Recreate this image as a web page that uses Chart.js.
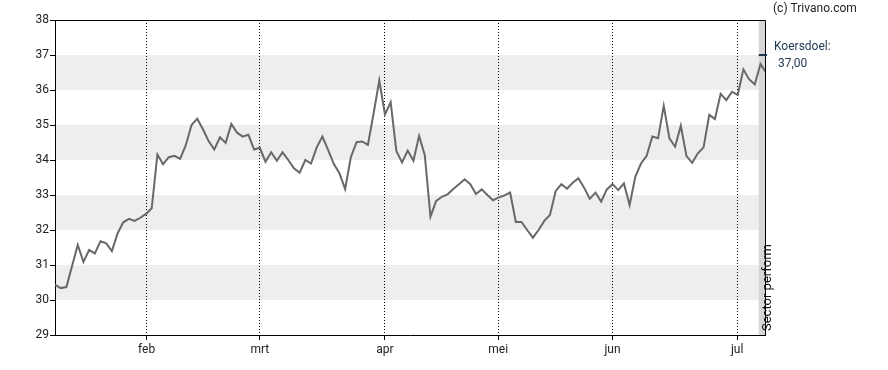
<!DOCTYPE html>
<html>
<head>
<meta charset="utf-8">
<script src="https://cdn.jsdelivr.net/npm/chart.js@4/dist/chart.umd.min.js"></script>
<style>
  html, body { margin: 0; padding: 0; background: #fff; }
  #wrap { width: 888px; height: 370px; }
</style>
</head>
<body>
<div id="wrap"><canvas id="c" width="888" height="370"></canvas></div>
<script>
// Closing prices, one per trading day (index = trading day)
const prices = [
  30.43, 30.34, 30.37, 30.97, 31.57, 31.09, 31.43, 31.33, 31.68, 31.62,
  31.40, 31.90, 32.22, 32.32, 32.26, 32.35, 32.46, 32.62, 34.16, 33.88,
  34.08, 34.12, 34.03, 34.43, 35.00, 35.18, 34.88, 34.54, 34.30, 34.65,
  34.49, 35.03, 34.78, 34.67, 34.72, 34.30, 34.35, 33.95, 34.22, 33.98,
  34.22, 34.00, 33.76, 33.64, 34.00, 33.90, 34.36, 34.67, 34.29, 33.89,
  33.62, 33.17, 34.08, 34.51, 34.53, 34.43, 35.33, 36.27, 35.30, 35.65,
  34.26, 33.93, 34.27, 33.98, 34.69, 34.14, 32.38, 32.83, 32.95, 33.02,
  33.17, 33.31, 33.45, 33.31, 33.03, 33.16, 33.00, 32.85, 32.93, 32.99,
  33.07, 32.23, 32.23, 32.00, 31.78, 32.00, 32.26, 32.43, 33.11, 33.31,
  33.18, 33.35, 33.48, 33.21, 32.89, 33.07, 32.81, 33.16, 33.31, 33.14,
  33.33, 32.71, 33.52, 33.90, 34.12, 34.67, 34.62, 35.55, 34.62, 34.38,
  34.98, 34.11, 33.92, 34.19, 34.36, 35.29, 35.17, 35.89, 35.71, 35.95,
  35.86, 36.59, 36.31, 36.16, 36.74, 36.50
];
// Month tick positions (trading-day index) and labels
const monthPositions = [16.1, 36.0, 58.0, 77.9, 98.0, 119.9];
const monthLabels = ["feb", "mrt", "apr", "mei", "jun", "jul"];
// Y axis
const yMin = 29, yMax = 38;
// Shaded horizontal bands [from, to]
const bands = [[30, 31], [32, 33], [34, 35], [36, 37]];
// Analyst target
const targetPrice = 37.00;
const targetLabel = "Koersdoel:";
const targetText = "37,00";
const ratingText = "Sector perform";
const ratingFromIndex = 123.7;
const copyrightText = "(c) Trivano.com";
const xMaxIndex = 124.8;

const points = prices.map((v, i) => ({x: i, y: v}));

const decor = {
  id: 'decor',
  beforeDraw(chart) {
    const {ctx, chartArea: a, scales: {x, y}} = chart;
    ctx.save();
    ctx.fillStyle = '#eeeeee';
    bands.forEach(([lo, hi]) => {
      const y1 = y.getPixelForValue(hi), y2 = y.getPixelForValue(lo);
      ctx.fillRect(a.left, y1, a.right - a.left, y2 - y1);
    });
    const rx = x.getPixelForValue(ratingFromIndex);
    ctx.fillStyle = '#d6d6d6';
    ctx.fillRect(rx, a.top, a.right - rx, a.bottom - a.top);
    ctx.restore();
  },
  afterDraw(chart) {
    const {ctx, chartArea: a, scales: {x, y}} = chart;
    ctx.save();
    // top & right frame
    ctx.strokeStyle = '#000';
    ctx.lineWidth = 1;
    ctx.beginPath();
    ctx.moveTo(a.left, Math.round(a.top) + 0.5);
    ctx.lineTo(Math.round(a.right) + 0.5, Math.round(a.top) + 0.5);
    ctx.lineTo(Math.round(a.right) + 0.5, a.bottom);
    ctx.stroke();
    // target marker
    const rx = x.getPixelForValue(ratingFromIndex);
    const ty = y.getPixelForValue(targetPrice);
    ctx.strokeStyle = '#1c3550';
    ctx.lineWidth = 2;
    ctx.beginPath();
    ctx.moveTo(rx, ty);
    ctx.lineTo(a.right + 2, ty);
    ctx.stroke();
    // texts
    ctx.font = '12px Roboto';
    ctx.textBaseline = 'middle';
    ctx.textAlign = 'left';
    ctx.fillStyle = '#222';
    ctx.fillText(copyrightText, 773, 9);
    ctx.fillStyle = '#1c3550';
    ctx.fillText(targetLabel, 774, 47);
    ctx.fillText(targetText, 778, 64);
    // rotated rating text
    ctx.save();
    ctx.translate(768, a.bottom - 4);
    ctx.rotate(-Math.PI / 2);
    ctx.font = '13px Roboto';
    ctx.fillStyle = '#111';
    ctx.textAlign = 'left';
    ctx.textBaseline = 'middle';
    ctx.fillText(ratingText, 0, 0);
    ctx.restore();
    ctx.restore();
  }
};

new Chart(document.getElementById('c'), {
  type: 'line',
  data: {
    datasets: [{
      data: points,
      borderColor: '#686868',
      borderWidth: 2,
      pointRadius: 0,
      tension: 0,
      fill: false
    }]
  },
  options: {
    responsive: false,
    animation: false,
    events: [],
    layout: { padding: { top: 20, right: 123, left: 0, bottom: 0 } },
    plugins: { legend: { display: false }, tooltip: { enabled: false } },
    scales: {
      x: {
        type: 'linear',
        min: 0,
        max: xMaxIndex,
        afterBuildTicks(scale) {
          scale.ticks = monthPositions.map(v => ({value: v}));
        },
        afterFit(scale) { scale.height = 35; },
        ticks: {
          autoSkip: false,
          maxRotation: 0,
          padding: 3,
          color: '#222',
          font: { family: 'Roboto', size: 12 },
          callback(value, index) { return monthLabels[index]; }
        },
        grid: {
          display: true,
          drawOnChartArea: true,
          drawTicks: true,
          color: '#000',
          lineWidth: 1,
          tickColor: '#000',
          tickLength: 5
        },
        border: { display: true, color: '#000', width: 1, dash: [1, 2] }
      },
      y: {
        min: yMin,
        max: yMax,
        afterFit(scale) { scale.width = 55; },
        ticks: {
          stepSize: 1,
          padding: 1,
          color: '#222',
          font: { family: 'Roboto', size: 12 }
        },
        grid: {
          display: true,
          drawOnChartArea: false,
          drawTicks: true,
          tickColor: '#000',
          tickLength: 5
        },
        border: { display: true, color: '#000', width: 1 }
      }
    }
  },
  plugins: [decor]
});
</script>
</body>
</html>
